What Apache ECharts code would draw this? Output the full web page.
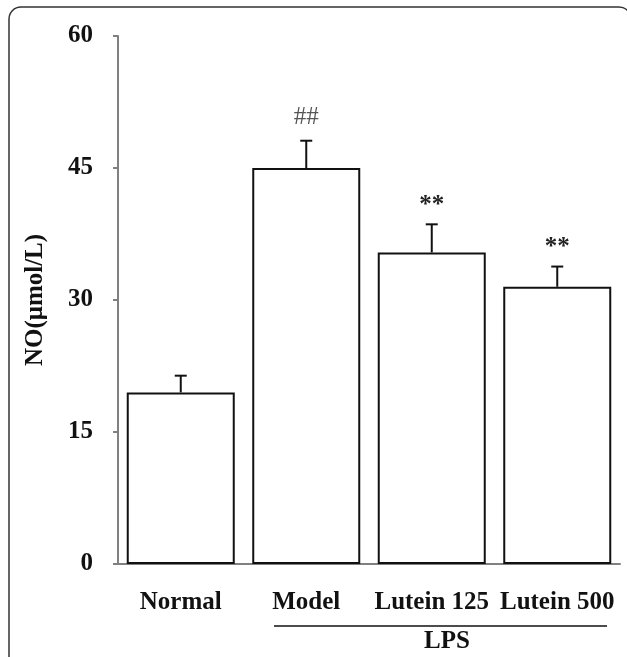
<!DOCTYPE html>
<html><head><meta charset="utf-8">
<script src="https://cdn.jsdelivr.net/npm/echarts@6/dist/echarts.min.js"></script>
<style>html,body{margin:0;padding:0;background:#fff}#c{width:627px;height:657px}</style>
</head><body><div id="c"></div>
<script>
const categories = ['Normal', 'Model', 'Lutein 125', 'Lutein 500'];
const means = [19.5, 45.0, 35.4, 31.5];
const errors = [1.9, 3.1, 3.2, 2.3];
const marks = ['', '##', '**', '**'];
const yTitle = 'NO(μmol/L)';
const groupLabel = 'LPS';
const FONT = '"Liberation Serif","Times New Roman",serif';

const chart = echarts.init(document.getElementById('c'), null, {renderer: 'canvas'});
const errData = means.map((m, i) => [i, m, m + errors[i]]);

const option = {
  animation: false,
  backgroundColor: '#fff',
  grid: {left: 118, right: 7, top: 36, bottom: 93},
  xAxis: {
    type: 'category', data: categories,
    axisLine: {lineStyle: {color: '#808080', width: 2}},
    axisTick: {show: false},
    axisLabel: {fontFamily: FONT, fontWeight: 'bold', fontSize: 25, color: '#111', margin: 26, interval: 0}
  },
  yAxis: {
    type: 'value', min: 0, max: 60, interval: 15,
    axisLine: {show: true, lineStyle: {color: '#808080', width: 2}},
    axisTick: {show: true, length: 5, lineStyle: {color: '#808080', width: 2}},
    splitLine: {show: false},
    axisLabel: {fontFamily: FONT, fontWeight: 'bold', fontSize: 25, color: '#111', margin: 25},
    name: yTitle, nameLocation: 'middle', nameGap: 70,
    nameTextStyle: {fontFamily: FONT, fontWeight: 'bold', fontSize: 25, color: '#111'}
  },
  series: [
    {
      type: 'bar', data: means, barWidth: 108,
      itemStyle: {color: '#fff', borderColor: '#111', borderWidth: 2}
    },
    {
      type: 'custom', data: errData, z: 5,
      encode: {x: 0, y: 2},
      renderItem: function (params, api) {
        const top = api.coord([api.value(0), api.value(1)]);
        const cap = api.coord([api.value(0), api.value(2)]);
        const children = [
          {type: 'line', shape: {x1: top[0], y1: top[1], x2: cap[0], y2: cap[1]}, style: {stroke: '#111', lineWidth: 2}},
          {type: 'line', shape: {x1: cap[0] - 6, y1: cap[1], x2: cap[0] + 6, y2: cap[1]}, style: {stroke: '#111', lineWidth: 2}}
        ];
        const m = marks[params.dataIndex];
        if (m) {
          const isStar = m.indexOf('*') >= 0;
          children.push({type: 'text', style: {text: m, x: cap[0], y: cap[1] - (isStar ? 19 : 23), align: 'center', verticalAlign: 'middle',
            font: (isStar ? 'bold ' : '') + '25px ' + FONT, fill: isStar ? '#222' : '#555'}});
        }
        return {type: 'group', children: children};
      }
    }
  ],
  graphic: [
    {type: 'rect', shape: {x: 9, y: 7, width: 622, height: 700, r: 12}, style: {fill: 'none', stroke: '#333', lineWidth: 1.5}, z: -1},
    {type: 'line', shape: {x1: 274, y1: 626, x2: 607, y2: 626}, style: {stroke: '#111', lineWidth: 1.5}},
    {type: 'text', style: {text: groupLabel, x: 447, y: 642, align: 'center', verticalAlign: 'middle',
      font: 'bold 25px ' + FONT, fill: '#111'}}
  ]
};
chart.setOption(option);
</script></body></html>
